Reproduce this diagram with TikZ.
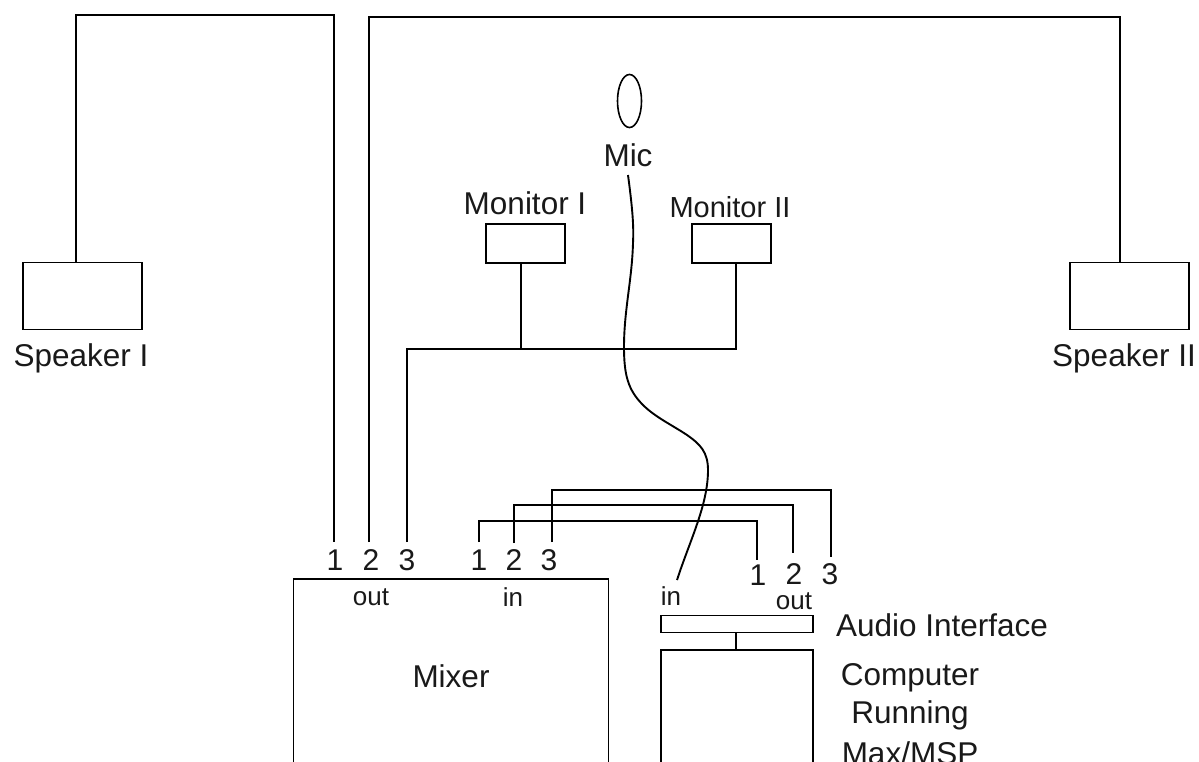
\documentclass[tikz,border=0pt]{standalone}
\usepackage{fontspec}
\setmainfont{Liberation Sans}
\usetikzlibrary{shapes.geometric}
\tikzset{
 wire/.style={draw=black,line width=1.9pt},
 box/.style={draw=black,line width=1.9pt,fill=white,inner sep=0pt,outer sep=0pt},
 big/.style={font=\fontsize{31.5}{36}\selectfont,inner sep=0pt,text=black!90},
 digit/.style={font=\fontsize{30}{34}\selectfont,inner sep=0pt,text=black!90},
 mid/.style={font=\fontsize{29}{34}\selectfont,inner sep=0pt,text=black!90},
 small/.style={font=\fontsize{26}{30}\selectfont,inner sep=0pt,text=black!90},
}
\begin{document}
\begin{tikzpicture}[x=1pt,y=-1pt]
\useasboundingbox (0,0) rectangle (1199,761);
\clip (0,0) rectangle (1199,761);
% boxes
\node[box,minimum width=119,minimum height=67] (spk1) at (82.5,296) {};
\node[box,minimum width=119,minimum height=67] (spk2) at (1129.5,296) {};
\node[box,minimum width=79,minimum height=39] (mon1) at (525.5,243.5) {};
\node[box,minimum width=79,minimum height=39] (mon2) at (731.5,243.5) {};
\node[box,minimum width=152,minimum height=17] (ai) at (737,624) {};
\node[box,minimum width=315,minimum height=300] (mixer) at (451,729) {};
\node[box,minimum width=152,minimum height=300] (comp) at (737,800) {};
\node[draw=black,line width=1.6pt,ellipse,minimum width=24,minimum height=53,inner sep=0pt] (micshape) at (629.5,101) {};
% labels
\node[big] (l1) at (81,358.5) {Speaker I};
\node[big] (l2) at (1124,358.5) {Speaker II};
\node[big] (l3) at (525,203) {Monitor I};
\node[mid] (l4) at (730,207) {Monitor II};
\node[big] (mic) at (628,155) {Mic};
\node[big] (mx) at (451,676) {Mixer};
\node[big] (lai) at (942,625) {Audio Interface};
\node[big] (c1) at (910,678) {Computer};
\node[big] (c2) at (910,715) {Running};
\node[big] (c3) at (910,753) {Max/MSP};
\node[digit] (o1) at (335,560) {1};
\node[digit] (o2) at (371,560) {2};
\node[digit] (o3) at (407,560) {3};
\node[digit] (i1) at (479,560) {1};
\node[digit] (i2) at (514,560) {2};
\node[digit] (i3) at (549,560) {3};
\node[digit] (a1) at (758,575) {1};
\node[digit] (a2) at (794,574) {2};
\node[digit] (a3) at (830,574) {3};
\node[small] (lo) at (371,597) {out};
\node[small] (li) at (513,597) {in};
\node[small] (lain) at (671,596) {in};
\node[small] (laout) at (794,601) {out};
% connectors
\coordinate (t1) at (76,15); \coordinate (t2) at (334,15);
\coordinate (t3) at (369,17); \coordinate (t4) at (1120,17);
\draw[wire] (76,262) -- (t1) -- (t2) -- (334,542);
\draw[wire] (369,542) -- (t3) -- (t4) -- (1120,262);
\coordinate (j1) at (521,349);
\draw[wire] (407,542) -- (407,349) -- (736,349) -- (736,263);
\draw[wire] (j1) -- (521,263);
\draw[wire] (479,542) -- (479,521) -- (757,521) -- (757,560);
\draw[wire] (514,543) -- (514,505) -- (793,505) -- (793,553);
\draw[wire] (552,542) -- (552,490) -- (831,490) -- (831,557);
\draw[wire] (736,633) -- (736,650);
\draw[black,line width=1.9pt] (628,175) .. controls (632,205) and (634,225) .. (633,243)
 .. controls (632,280) and (624,310) .. (624,347)
 .. controls (624,375) and (628,390) .. (643,405)
 .. controls (655,417) and (672,425) .. (687,435)
 .. controls (700,444) and (708,452) .. (708,470)
 .. controls (708,505) and (690,540) .. (677,580);
\end{tikzpicture}
\end{document}
